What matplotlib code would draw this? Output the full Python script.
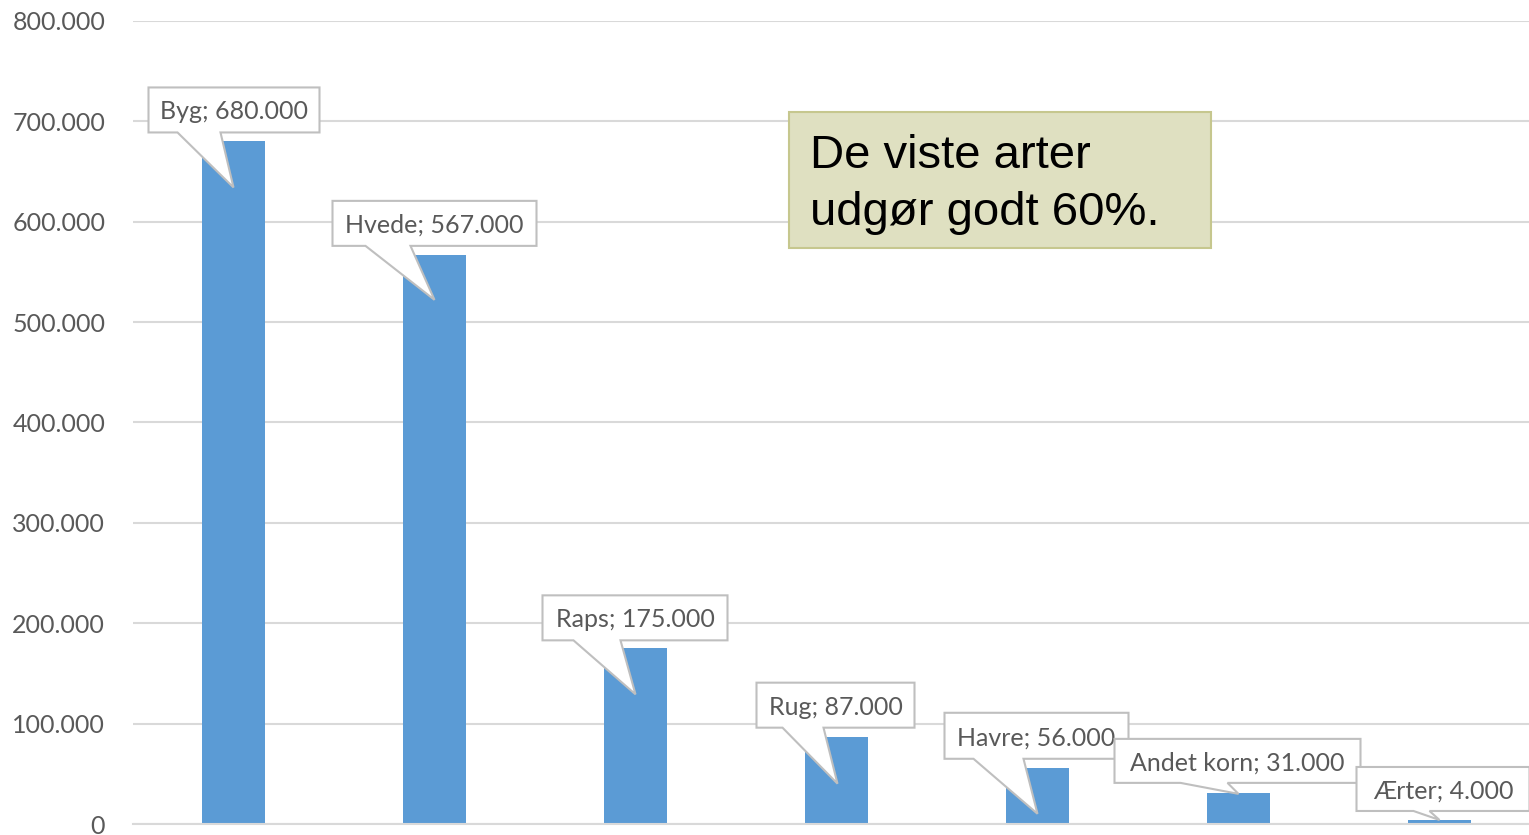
import matplotlib
matplotlib.use("Agg")
import matplotlib.pyplot as plt
from matplotlib.patches import Polygon, Rectangle
from matplotlib import transforms
from matplotlib.ticker import FuncFormatter, MultipleLocator

# ---- data ----
categories = ["Byg", "Hvede", "Raps", "Rug", "Havre", "Andet korn", "Ærter"]
values = [680000, 567000, 175000, 87000, 56000, 31000, 4000]
note_lines = ["De viste arter", "udgør godt 60%."]

# ---- callout layout (pixel offsets from bar top): box l, r, bottom, top; wedge base l, r; tip dx, dy ----
callouts = [
    (-85, 86, 9, 54, -56, -13, 0, -46),
    (-102, 102, 9, 54, -69, -24, 0, -45),
    (-93, 92, 8, 53, -62, -15, 0, -46),
    (-80, 78, 9, 54, -54, -13, 1, -47),
    (-93, 91, 9, 55, -64, -14, 0, -46),
    (-124, 122, 10, 54, -58, -11, 0, -1),
    (-83, 90, 9, 53, -26, -10, 0, 0),
]

W, H = 1529, 835
fig = plt.figure(figsize=(W / 100, H / 100), dpi=100)
ax = fig.add_axes([133 / W, (H - 824) / H, (1540 - 133) / W, (824 - 21) / H])

bar_color = "#5B9BD5"
grid_color = "#D9D9D9"
text_color = "#595959"
font = "Lato"

x = list(range(len(categories)))
ax.bar(x, values, width=0.313, color=bar_color, zorder=2)
ax.set_xlim(-0.5, len(categories) - 0.5)
ax.set_ylim(0, 800000)
ax.yaxis.set_major_locator(MultipleLocator(100000))
ax.yaxis.set_major_formatter(FuncFormatter(lambda v, p: f"{int(v):,}".replace(",", ".")))
ax.grid(axis="y", color=grid_color, linewidth=1.5, zorder=0)
ax.set_axisbelow(True)
for s in ["top", "right", "left"]:
    ax.spines[s].set_visible(False)
ax.spines["bottom"].set_color(grid_color)
ax.spines["bottom"].set_linewidth(1.5)
ax.set_xticks([])
ax.tick_params(axis="y", length=0, pad=20, labelsize=18, labelcolor=text_color)
for lab in ax.get_yticklabels():
    lab.set_fontfamily(font)

scale = fig.dpi / 100.0
for i, (cat, val, c) in enumerate(zip(categories, values, callouts)):
    bl, br, bb, bt, wl, wr, tx, ty = c
    verts = [(bl, bt), (br, bt), (br, bb), (wr, bb), (tx, ty), (wl, bb), (bl, bb)]
    tr = transforms.Affine2D().scale(scale) + transforms.ScaledTranslation(i, val, ax.transData)
    poly = Polygon(verts, closed=True, transform=tr, facecolor="white",
                   edgecolor="#BFBFBF", linewidth=1.5, clip_on=False, zorder=5 + i)
    ax.add_patch(poly)
    cx = (bl + br) / 2
    cy = (bb + bt) / 2 - 2
    label = f"{cat}; {val:,}".replace(",", ".")
    ax.annotate(label, xy=(i, val), xytext=(cx * 0.72, cy * 0.72), textcoords="offset points",
                ha="center", va="center", fontsize=18, color=text_color, family=font,
                zorder=5 + i + 0.5, annotation_clip=False)

# note box
fig.patches.append(Rectangle((789 / W, (H - 248) / H), (1211 - 789) / W, (248 - 112) / H,
                             transform=fig.transFigure, facecolor="#DFE0C1",
                             edgecolor="#C6C78E", linewidth=1.5, zorder=20))
fig.text(810 / W, (H - 168) / H, note_lines[0], fontsize=34, family="Liberation Sans",
         color="black", va="baseline", ha="left", zorder=21)
fig.text(810 / W, (H - 225) / H, note_lines[1], fontsize=34, family="Liberation Sans",
         color="black", va="baseline", ha="left", zorder=21)

fig.savefig("out.png", dpi=100)
